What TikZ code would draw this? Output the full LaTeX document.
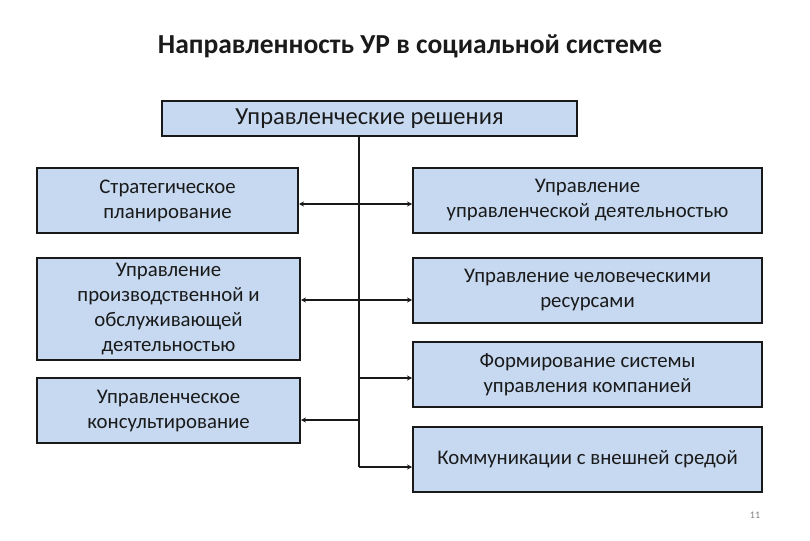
\documentclass[tikz,border=0pt]{standalone}
\usepackage{fontspec}
\setmainfont{Carlito}
\usetikzlibrary{arrows.meta}
\definecolor{boxfill}{HTML}{C6D9F1}
\definecolor{txt}{HTML}{1A1A1A}
\begin{document}
\begin{tikzpicture}[x=1pt,y=-1pt,
  box/.style={draw=black!90, line width=2pt, fill=boxfill, align=center, inner sep=0pt,
    font=\fontsize{20.8}{25}\selectfont, text=txt},
  conn/.style={line width=1.6pt, draw=black!90},
  tip/.style={-{Stealth[length=5pt,width=5pt]}},
  tips/.style={{Stealth[length=5pt,width=5pt]}-{Stealth[length=5pt,width=5pt]}}]
\useasboundingbox (0,0) rectangle (810,540);
\fill[white] (0,0) rectangle (810,540);
\node[font=\fontsize{27.5}{30}\selectfont\bfseries, text=txt] (title) at (410,46) {Направленность УР в социальной системе};
\node[box, font=\fontsize{24.5}{26}\selectfont, minimum width=415pt, minimum height=35pt] (top) at (369.5,118.5) {Управленческие решения};
\node[box, minimum width=261pt, minimum height=65pt] (L1) at (167.5,200.5) {Стратегическое\\планирование};
\node[box, minimum width=263pt, minimum height=102pt] (L2) at (168.5,309) {Управление\\производственной и\\обслуживающей\\деятельностью};
\node[box, minimum width=263pt, minimum height=65pt] (L3) at (168.5,410.5) {Управленческое\\консультирование};
\node[box, minimum width=349pt, minimum height=65pt] (R1) at (587.5,200.5) {Управление\\управленческой деятельностью};
\node[box, minimum width=349pt, minimum height=65pt] (R2) at (587.5,290.5) {Управление человеческими\\ресурсами};
\node[box, minimum width=349pt, minimum height=65pt] (R3) at (587.5,374.5) {Формирование системы\\управления компанией};
\node[box, minimum width=349pt, minimum height=65pt] (R4) at (587.5,459.5) {Коммуникации с внешней средой};
\node[font=\fontsize{10}{11}\selectfont, text=black!50] (pg) at (755,515) {11};
\coordinate (trunk) at (359,136);
\draw[conn] (top.south -| trunk) -- ([yshift=-7.5pt]trunk |- R4.west);
\draw[conn, tips] ([yshift=-3.5pt]L1.east) -- ([yshift=-3.5pt]R1.west);
\draw[conn, tips] ([yshift=-9.5pt]R2.west) -- ([yshift=-9.5pt]R2.west -| L2.east);
\draw[conn, tip] ([yshift=-3.5pt]trunk |- R3.west) -- ([yshift=-3.5pt]R3.west);
\draw[conn, tip] ([yshift=-9.5pt]trunk |- L3.east) -- ([yshift=-9.5pt]L3.east);
\draw[conn, tip] ([yshift=-7.5pt]trunk |- R4.west) -- ([yshift=-7.5pt]R4.west);
\end{tikzpicture}
\end{document}
